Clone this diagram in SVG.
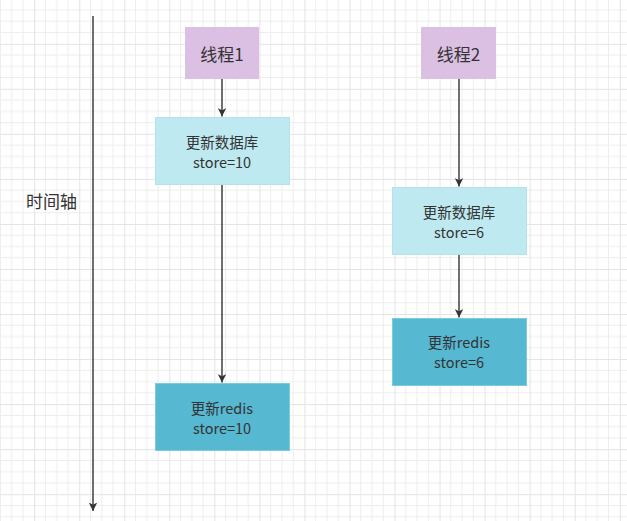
<svg xmlns="http://www.w3.org/2000/svg" width="627" height="521" viewBox="0 0 627 521">
  <style>
    .t { font-family: "Noto Sans CJK SC", "Noto Sans", sans-serif; fill: #333333; text-anchor: middle; }
    .big { font-size: 17px; }
    .sm { font-size: 14.5px; }
    .thread { fill: #DCC0E4; }
    .db { fill: #BFE9F0; stroke: #B2E3EC; stroke-width: 1; }
    .redis { fill: #57B8D2; stroke: #79CBE0; stroke-width: 1; }
    .edge { stroke: #333333; stroke-width: 1.4; fill: none; }
  </style>
  <defs>
    <pattern id="grid" patternUnits="userSpaceOnUse" x="34.2" y="43.8" width="45.04" height="45.04">
      <path d="M11.26 0V45.04M22.52 0V45.04M33.78 0V45.04M0 11.26H45.04M0 22.52H45.04M0 33.78H45.04" stroke="#EDEDED" stroke-width="1" fill="none"/>
      <path d="M0.5 0V45.04M0 0.5H45.04" stroke="#E3E3E3" stroke-width="1" fill="none"/>
    </pattern>
    <marker id="arrL" viewBox="0 0 10 10" refX="10" refY="5" markerWidth="8.5" markerHeight="8.5" markerUnits="userSpaceOnUse" orient="auto">
      <path d="M0,0 L10,5 L0,10 L2.5,5 Z" fill="#333333"/>
    </marker>
  </defs>
  <rect x="0" y="0" width="627" height="521" fill="#FFFFFF"/>
  <rect x="0" y="0" width="627" height="521" fill="url(#grid)"/>

  <g id="connectors">
    <line class="edge" x1="93" y1="16" x2="93" y2="511" marker-end="url(#arrL)"/>
    <line class="edge" x1="222" y1="79" x2="222" y2="116.5" marker-end="url(#arrL)"/>
    <line class="edge" x1="222" y1="185" x2="222" y2="382.5" marker-end="url(#arrL)"/>
    <line class="edge" x1="459" y1="79" x2="459" y2="186.5" marker-end="url(#arrL)"/>
    <line class="edge" x1="459" y1="254" x2="459" y2="317.5" marker-end="url(#arrL)"/>
  </g>

  <g id="timeline-label">
    <text class="t big" x="51.5" y="208">时间轴</text>
  </g>

  <g id="thread1">
    <rect class="thread" x="185" y="27" width="74" height="52"/>
    <text class="t big" x="222" y="60.5">线程1</text>
  </g>

  <g id="thread2">
    <rect class="thread" x="421" y="27" width="75" height="52"/>
    <text class="t big" x="458.5" y="60.5">线程2</text>
  </g>

  <g id="db10">
    <rect class="db" x="155.5" y="117.5" width="134" height="67"/>
    <text class="t sm" x="222" y="148">更新数据库</text>
    <text class="t sm" x="222" y="168">store=10</text>
  </g>

  <g id="db6">
    <rect class="db" x="392.5" y="187.5" width="134" height="67"/>
    <text class="t sm" x="459" y="217.5">更新数据库</text>
    <text class="t sm" x="459" y="237.5">store=6</text>
  </g>

  <g id="redis6">
    <rect class="redis" x="392.5" y="318.5" width="134" height="67"/>
    <text class="t sm" x="459" y="348">更新redis</text>
    <text class="t sm" x="459" y="368">store=6</text>
  </g>

  <g id="redis10">
    <rect class="redis" x="155.5" y="383.5" width="134" height="67"/>
    <text class="t sm" x="222" y="414">更新redis</text>
    <text class="t sm" x="222" y="434">store=10</text>
  </g>
</svg>
